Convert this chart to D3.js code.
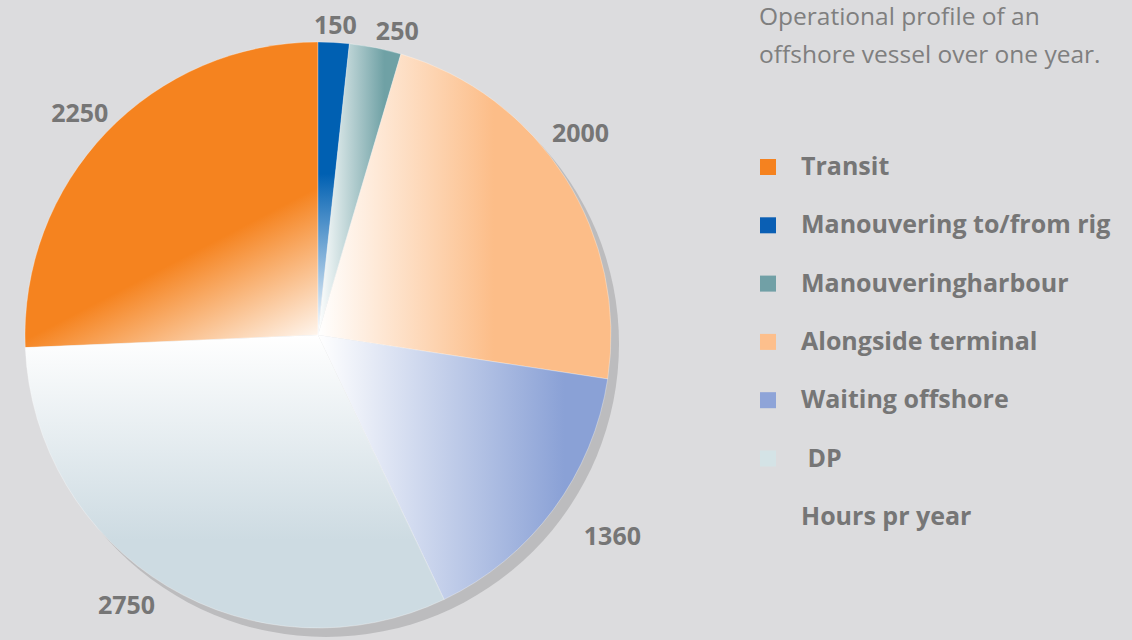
<!DOCTYPE html>
<html>
<head>
<meta charset="utf-8">
<script src="https://cdn.jsdelivr.net/npm/d3@7"></script>
<style>
  body { margin: 0; background: #dcdcde; }
  svg { display: block; }
  text { font-family: "Open Sans", "Noto Sans", sans-serif; }
</style>
</head>
<body>
<svg id="chart" width="1132" height="640"></svg>
<script>
// data
var categories = ["Transit", "Manouvering to/from rig", "Manouveringharbour", "Alongside terminal", "Waiting offshore", " DP"]
var hours = [2250, 150, 250, 2000, 1360, 2750]
var seriesName = "Hours pr year"
var titleLines = ["Operational profile of an", "offshore vessel over one year."]

// styles
var colors = ["#f5831f", "#0060b2", "#6fa1a5", "#fcbd88", "#8aa1d6", "#cddbe2"]
var legendColors = ["#f5821f", "#0a5fb4", "#71a0a6", "#fdbf8c", "#8ea4d8", "#d4e3e6"]
// gradient vector per slice, in bounding-box units: [x1, y1, x2, y2]
var gradVec = [[1, 1, 0.65, 0.3], [0, 1, 0, 0], [0, 0, 1, 0], [0, 0, 1, 0], [0, 0, 1, 0], [0, 0, 0, 1]]
var gradStop = [0.6, 0.55, 0.8, 0.6, 0.85, 0.7]
// small nudges for the outside labels
var labelNudge = [[-5, 0], [0, 12], [16, 12], [-10, -30], [35, 8], [-25, -8]]

var cx = 318, cy = 335, R = 293

var svg = d3.select("#chart")
var defs = svg.append("defs")

var total = d3.sum(hours)
var start = -hours[0] / total * 2 * Math.PI

var pie = d3.pie().sort(null).value(d => d)
  .startAngle(start).endAngle(start + 2 * Math.PI)
var arcs = pie(hours)
var arc = d3.arc().innerRadius(0).outerRadius(R)

categories.forEach((c, i) => {
  var v = gradVec[i]
  var g = defs.append("linearGradient")
    .attr("id", "grad" + i)
    .attr("x1", v[0]).attr("y1", v[1])
    .attr("x2", v[2]).attr("y2", v[3])
  g.append("stop").attr("offset", 0).attr("stop-color", "#ffffff")
  g.append("stop").attr("offset", gradStop[i]).attr("stop-color", colors[i])
})

// shadow
svg.append("circle")
  .attr("cx", cx + 8).attr("cy", cy + 9).attr("r", R)
  .attr("fill", "#bcbcbe")

var pieG = svg.append("g").attr("transform", "translate(" + cx + "," + cy + ")")

pieG.selectAll("path.slice")
  .data(arcs)
  .enter().append("path")
  .attr("class", "slice")
  .attr("d", arc)
  .attr("fill", (d, i) => "url(#grad" + i + ")")
  .attr("stroke", "#ffffff")
  .attr("stroke-opacity", 0.5)
  .attr("stroke-width", 0.6)

var labelArc = d3.arc().innerRadius(R + 30).outerRadius(R + 30)
pieG.selectAll("text.val")
  .data(arcs)
  .enter().append("text")
  .attr("class", "val")
  .attr("x", (d, i) => labelArc.centroid(d)[0] + labelNudge[i][0])
  .attr("y", (d, i) => labelArc.centroid(d)[1] + labelNudge[i][1])
  .attr("text-anchor", "middle")
  .attr("dominant-baseline", "central")
  .style("font-size", "25px")
  .style("font-weight", "bold")
  .attr("fill", "#767676")
  .text(d => d.data)

// title
svg.selectAll("text.title")
  .data(titleLines)
  .enter().append("text")
  .attr("class", "title")
  .attr("x", 759)
  .attr("y", (d, i) => 25 + i * 38)
  .style("font-size", "24.5px")
  .attr("fill", "#7f7f7f")
  .text(d => d)

// legend
var legendItems = categories.concat([seriesName])
var legend = svg.append("g").attr("transform", "translate(760,167)")
var row = legend.selectAll("g.row")
  .data(legendItems)
  .enter().append("g")
  .attr("class", "row")
  .attr("transform", (d, i) => "translate(0," + (i * 58.3) + ")")

row.filter((d, i) => i < categories.length)
  .append("rect")
  .attr("x", 0).attr("y", -8)
  .attr("width", 16).attr("height", 16)
  .attr("fill", (d, i) => legendColors[i])

row.append("text")
  .attr("x", 41)
  .attr("y", -2)
  .attr("dominant-baseline", "central")
  .style("font-size", "25px")
  .style("font-weight", "bold")
  .style("white-space", "pre")
  .attr("fill", "#767676")
  .text(d => d)
</script>
</body>
</html>
